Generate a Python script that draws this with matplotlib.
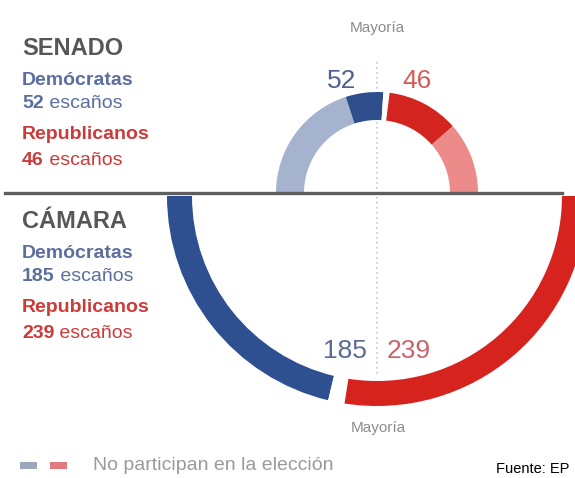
import numpy as np
import matplotlib
matplotlib.use("Agg")
import matplotlib.pyplot as plt
from matplotlib.patches import Wedge, Rectangle

plt.rcParams['font.family'] = ['Liberation Sans', 'DejaVu Sans']

# datos
senate_parts = ['D no participan', 'D', 'Otros', 'R', 'R no participan']
senate_seats = [40, 12, 2, 23, 23]
senate_totals = [52, 46]
house_parts = ['D', 'Vacantes', 'R']
house_seats = [185, 11, 239]
house_totals = [185, 239]
party_names = ['Demócratas', 'Republicanos']

senate_colors = ['#a6b3ce', '#2f4f8c', 'white', '#d3241f', '#ec8b89']
house_colors = ['#2e4f90', 'white', '#d6231e']
blue_txt, red_txt = '#5b6e9e', '#cc3a3a'
gray_title = '#575757'

fig = plt.figure(figsize=(5.75, 4.78), dpi=100)
ax = fig.add_axes([0, 0, 1, 1])
ax.set_xlim(0, 575)
ax.set_ylim(478, 0)
ax.axis('off')

cx = 377
# senado: semicirculo superior (y invertido -> 180..360)
sen_c, sen_r, sen_w = (cx, 193), 101, 28
step = 180 / sum(senate_seats)
start = 180
for n, col in zip(senate_seats, senate_colors):
    ax.add_patch(Wedge(sen_c, sen_r, start, start + n * step, width=sen_w,
                       facecolor=col, edgecolor='none', zorder=2))
    start += n * step

# camara: semicirculo inferior (180 -> 0)
hou_c, hou_r, hou_w = (cx, 196), 210, 25
step = 180 / sum(house_seats)
cum = 0
for n, col in zip(house_seats, house_colors):
    t2 = 180 - cum * step
    t1 = 180 - (cum + n) * step
    ax.add_patch(Wedge(hou_c, hou_r, t1, t2, width=hou_w,
                       facecolor=col, edgecolor='none', zorder=2))
    cum += n

# linea de mayoria y separador
ax.plot([cx, cx], [62, 374], color='#c8c8c8', lw=1.2, ls=(0, (1, 2)), zorder=1)
ax.plot([5, 562], [193, 193], color='#5e5e5e', lw=2.4, zorder=3)

ax.text(cx, 28, 'Mayoría', color='#8c8c8c', fontsize=11, ha='center', va='center')
ax.text(cx + 1, 428, 'Mayoría', color='#8c8c8c', fontsize=11, ha='center', va='center')

# totales junto a los arcos
ax.text(342, 88, str(senate_totals[0]), color='#4e6090', fontsize=19, ha='center', va='baseline')
ax.text(417, 88, str(senate_totals[1]), color='#d65a57', fontsize=19, ha='center', va='baseline')
ax.text(345, 358, str(house_totals[0]), color='#5a6a92', fontsize=19, ha='center', va='baseline')
ax.text(409, 358, str(house_totals[1]), color='#c9636b', fontsize=19, ha='center', va='baseline')


def block(title, y0, totals):
    ax.text(22, y0, title, color=gray_title, fontsize=17, fontweight='bold', va='baseline')
    ys = [y0 + 30, y0 + 53, y0 + 84, y0 + 110]
    for i, (name, col) in enumerate(zip(party_names, [blue_txt, red_txt])):
        ax.text(22, ys[2 * i], name, color=col, fontsize=14, fontweight='bold', va='baseline')
        t = ax.text(22, ys[2 * i + 1], str(totals[i]), color=col, fontsize=14,
                    fontweight='bold', va='baseline')
        ax.annotate(' escaños', xy=(1, 0), xycoords=t, color=col, fontsize=14,
                    ha='left', va='bottom')


block('SENADO', 55, senate_totals)
block('CÁMARA', 228, house_totals)

# leyenda
ax.add_patch(Rectangle((20, 462), 17, 7, facecolor='#9ca7bc', edgecolor='none'))
ax.add_patch(Rectangle((50, 462), 17, 7, facecolor='#e07a7e', edgecolor='none'))
ax.text(93, 466, 'No participan en la elección', color='#9a9a9a', fontsize=14,
        ha='left', va='center')
ax.text(496, 476, 'Fuente: EP', color='black', fontsize=10.5, ha='left', va='bottom')

fig.savefig('out.png', dpi=100)
